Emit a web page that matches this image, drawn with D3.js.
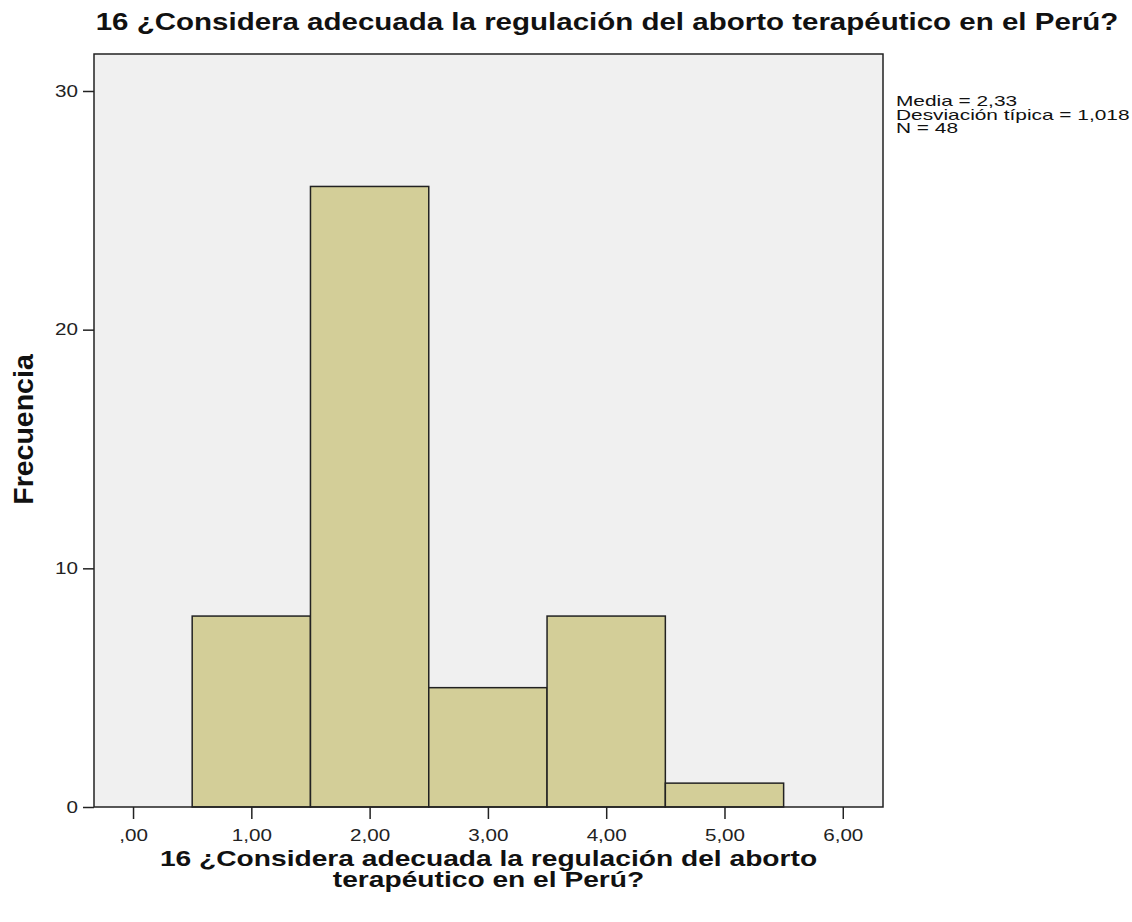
<!DOCTYPE html>
<html>
<head>
<meta charset="utf-8">
<script src="https://cdn.jsdelivr.net/npm/d3@7"></script>
<style>
  body { margin: 0; background: #fff; }
  text { font-family: "Liberation Sans", Arial, sans-serif; }
</style>
</head>
<body>
<div id="chart"></div>
<script>
// histogram bins (lower edge, upper edge) and counts
var binStarts = [0.5, 1.5, 2.5, 3.5, 4.5];
var binEnds = [1.5, 2.5, 3.5, 4.5, 5.5];
var counts = [8, 26, 5, 8, 1];
var xTicks = [0, 1, 2, 3, 4, 5, 6];
var yTicks = [0, 10, 20, 30];
var statLines = ["Media = 2,33", "Desviación típica = 1,018", "N = 48"];
var titleText = "16 ¿Considera adecuada la regulación del aborto terapéutico en el Perú?";
var xLabelLines = ["16 ¿Considera adecuada la regulación del aborto", "terapéutico en el Perú?"];

var W = 1132, H = 922;
var margin = {top: 54, left: 94, right: 249, bottom: 115};
var width = W - margin.left - margin.right,
    height = H - margin.top - margin.bottom;
// horizontal texts look a bit wider than normal in the picture
var sx = 1.25;

var svg = d3.select("#chart").append("svg")
  .attr("width", W).attr("height", H);

var x = d3.scaleLinear().domain([-0.33, 6.34]).range([0, width]);
var y = d3.scaleLinear().domain([0, 31.55]).range([height, 0]);

var g = svg.append("g").attr("transform", "translate(" + margin.left + "," + margin.top + ")");

// plot background
g.append("rect")
  .attr("width", width).attr("height", height)
  .attr("fill", "#f0f0f0");

// bars
g.selectAll("rect.bar")
  .data(counts)
  .enter().append("rect")
  .attr("class", "bar")
  .attr("x", function(d, i) { return x(binStarts[i]); })
  .attr("width", function(d, i) { return x(binEnds[i]) - x(binStarts[i]); })
  .attr("y", function(d) { return y(d); })
  .attr("height", function(d) { return height - y(d); })
  .attr("fill", "#d3ce98")
  .attr("stroke", "#222")
  .attr("stroke-width", 1.5);

// frame
g.append("rect")
  .attr("width", width).attr("height", height)
  .attr("fill", "none")
  .attr("stroke", "#222")
  .attr("stroke-width", 1.5);

// y axis
var yAxis = g.append("g")
  .call(d3.axisLeft(y).tickValues(yTicks).tickSize(11).tickPadding(5).tickFormat(d3.format("d")));
yAxis.select(".domain").remove();
yAxis.selectAll("line").attr("stroke", "#222").attr("stroke-width", 1.5);
yAxis.selectAll("text")
  .attr("font-size", 16.5).attr("fill", "#222")
  .attr("x", -16 / sx)
  .attr("transform", "scale(" + sx + ",1)");

// x axis
var xAxis = g.append("g")
  .attr("transform", "translate(0," + height + ")")
  .call(d3.axisBottom(x).tickValues(xTicks).tickSize(12).tickPadding(10)
    .tickFormat(function(d) { return d === 0 ? ",00" : d + ",00"; }));
xAxis.select(".domain").remove();
xAxis.selectAll("line").attr("stroke", "#222").attr("stroke-width", 1.5);
xAxis.selectAll("text")
  .attr("font-size", 16.5).attr("fill", "#222")
  .attr("transform", "scale(" + sx + ",1)");

// title
svg.append("text")
  .attr("transform", "translate(607,30) scale(" + sx + ",1)")
  .attr("text-anchor", "middle")
  .attr("font-size", 23.6).attr("font-weight", "bold")
  .attr("fill", "#111")
  .text(titleText);

// y label
svg.append("text")
  .attr("transform", "translate(33," + (margin.top + height / 2 - 1) + ") rotate(-90)")
  .attr("text-anchor", "middle")
  .attr("font-size", 28.5).attr("font-weight", "bold")
  .attr("fill", "#111")
  .text("Frecuencia");

// x label, two lines
svg.selectAll("text.xlab")
  .data(xLabelLines)
  .enter().append("text")
  .attr("class", "xlab")
  .attr("transform", function(d, i) {
    return "translate(" + (margin.left + width / 2) + "," + (866 + i * 21) + ") scale(1.31,1)";
  })
  .attr("text-anchor", "middle")
  .attr("font-size", 21.5).attr("font-weight", "bold")
  .attr("fill", "#111")
  .text(function(d) { return d; });

// stats box
svg.selectAll("text.stat")
  .data(statLines)
  .enter().append("text")
  .attr("class", "stat")
  .attr("transform", function(d, i) {
    return "translate(896," + (106 + i * 13.5) + ") scale(1.39,1)";
  })
  .attr("font-size", 15)
  .attr("fill", "#111")
  .text(function(d) { return d; });
</script>
</body>
</html>
